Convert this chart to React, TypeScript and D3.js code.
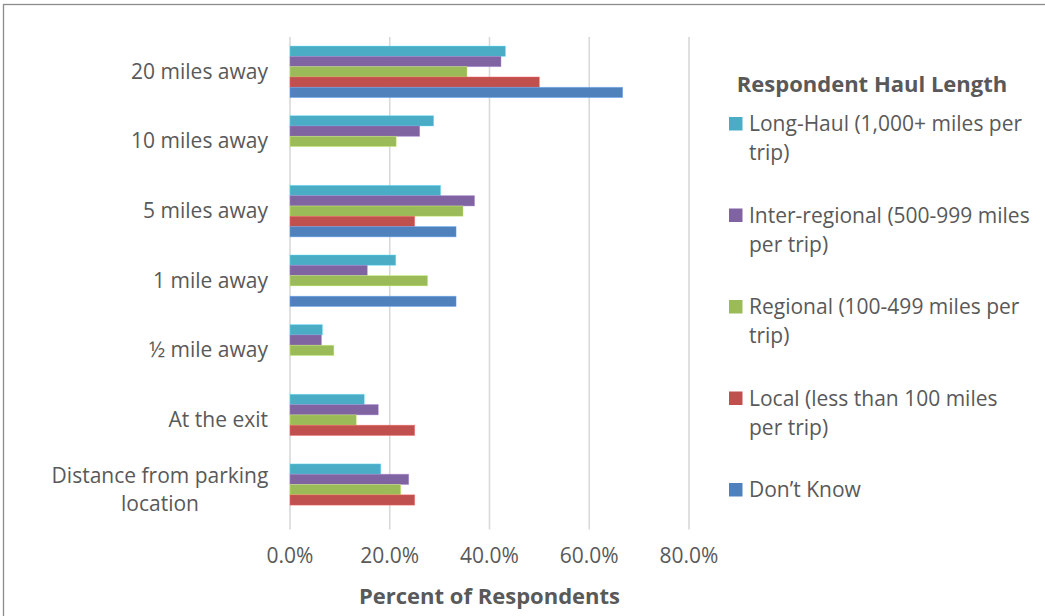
import React from "react";
import * as d3 from "d3";

// Distance categories, top to bottom
const categories = [
  "20 miles away",
  "10 miles away",
  "5 miles away",
  "1 mile away",
  "½ mile away",
  "At the exit",
  "Distance from parking location",
];

// Percent of respondents by haul length (same order as categories)
const longHaul = [43.2, 28.8, 30.2, 21.2, 6.5, 14.9, 18.2];
const interRegional = [42.3, 26.0, 37.0, 15.5, 6.3, 17.7, 23.8];
const regional = [35.5, 21.3, 34.7, 27.6, 8.8, 13.3, 22.2];
const local = [50.0, 0, 25.0, 0, 0, 25.0, 25.0];
const dontKnow = [66.7, 0, 33.3, 33.3, 0, 0, 0];

const seriesNames = [
  "Long-Haul (1,000+ miles per trip)",
  "Inter-regional (500-999 miles per trip)",
  "Regional (100-499 miles per trip)",
  "Local (less than 100 miles per trip)",
  "Don’t Know",
];
const legendLines = [
  ["Long-Haul (1,000+ miles per", "trip)"],
  ["Inter-regional (500-999 miles", "per trip)"],
  ["Regional (100-499 miles per", "trip)"],
  ["Local (less than 100 miles", "per trip)"],
  ["Don’t Know"],
];
const seriesColors = ["#4BACC6", "#8064A2", "#9BBB59", "#C0504D", "#4F81BD"];
const seriesValues = [longHaul, interRegional, regional, local, dontKnow];

const xTicks = [0, 20, 40, 60, 80];

const W = 1045;
const H = 616;
const plot = { left: 290, right: 689, top: 37, bottom: 524.5 };
const FONT = "'Open Sans', sans-serif";
const TEXT = "#595959";
const FS = 21;
const FS_BOLD = 22;

export default function App() {
  const x = d3.scaleLinear().domain([0, 80]).range([plot.left, plot.right]);
  const y = d3
    .scaleBand<string>()
    .domain(categories)
    .range([plot.top, plot.bottom])
    .paddingInner(0.26)
    .paddingOuter(0.13);
  const inner = d3
    .scaleBand<number>()
    .domain(d3.range(seriesNames.length))
    .range([0, y.bandwidth()]);

  return (
    <svg
      width={W}
      height={H}
      style={{ position: "absolute", left: 0, top: 0, background: "#fff" }}
      fontFamily={FONT}
    >
      <rect x={3.5} y={4.5} width={1200} height={800} fill="#fff" stroke="#8c8c8c" strokeWidth={1.3} />

      {/* vertical gridlines */}
      {xTicks.map((t) => (
        <line
          key={t}
          x1={x(t)}
          x2={x(t)}
          y1={plot.top}
          y2={plot.bottom + 5}
          stroke="#d9d9d9"
          strokeWidth={1.6}
        />
      ))}

      {/* bars */}
      {categories.map((c, ci) => (
        <g key={c} transform={`translate(0,${y(c)})`}>
          {seriesValues.map((vals, si) =>
            vals[ci] > 0 ? (
              <rect
                key={si}
                x={x(0)}
                y={inner(si)!}
                width={x(vals[ci]) - x(0)}
                height={inner.bandwidth()}
                fill={seriesColors[si]}
                stroke={d3.color(seriesColors[si])!.brighter(0.8).formatHex()}
                strokeOpacity={0.5}
                strokeWidth={0.8}
              />
            ) : null
          )}
        </g>
      ))}

      {/* category labels */}
      {categories.map((c) => {
        const cy = y(c)! + y.bandwidth() / 2;
        const lines = c === "Distance from parking location" ? ["Distance from parking", "location"] : [c];
        return (
          <text key={c} fontSize={FS} fill={TEXT}>
            {lines.map((l, i) => (
              <tspan
                key={i}
                x={lines.length > 1 ? 160 : 268}
                textAnchor={lines.length > 1 ? "middle" : "end"}
                y={cy + 7 + (i - (lines.length - 1) / 2) * 28}
              >
                {l}
              </tspan>
            ))}
          </text>
        );
      })}

      {/* x tick labels */}
      {xTicks.map((t) => (
        <text key={t} x={x(t)} y={563} textAnchor="middle" fontSize={FS} fill={TEXT}>
          {d3.format(".1f")(t) + "%"}
        </text>
      ))}
      <text
        x={(plot.left + plot.right) / 2}
        y={604}
        textAnchor="middle"
        fontSize={FS_BOLD}
        fontWeight="bold"
        fill={TEXT}
      >
        Percent of Respondents
      </text>

      {/* legend */}
      <text x={872} y={92} textAnchor="middle" fontSize={FS_BOLD} fontWeight="bold" fill={TEXT}>
        Respondent Haul Length
      </text>
      {seriesNames.map((s, i) => {
        const base = 131 + i * 91.5;
        return (
          <g key={s}>
            <rect x={729} y={base - 14} width={13.5} height={13.5} fill={seriesColors[i]} />
            <text x={749} y={base} fontSize={FS} fill={TEXT}>
              {legendLines[i].map((l, li) => (
                <tspan key={li} x={749} y={base + li * 29}>
                  {l}
                </tspan>
              ))}
            </text>
          </g>
        );
      })}
    </svg>
  );
}
